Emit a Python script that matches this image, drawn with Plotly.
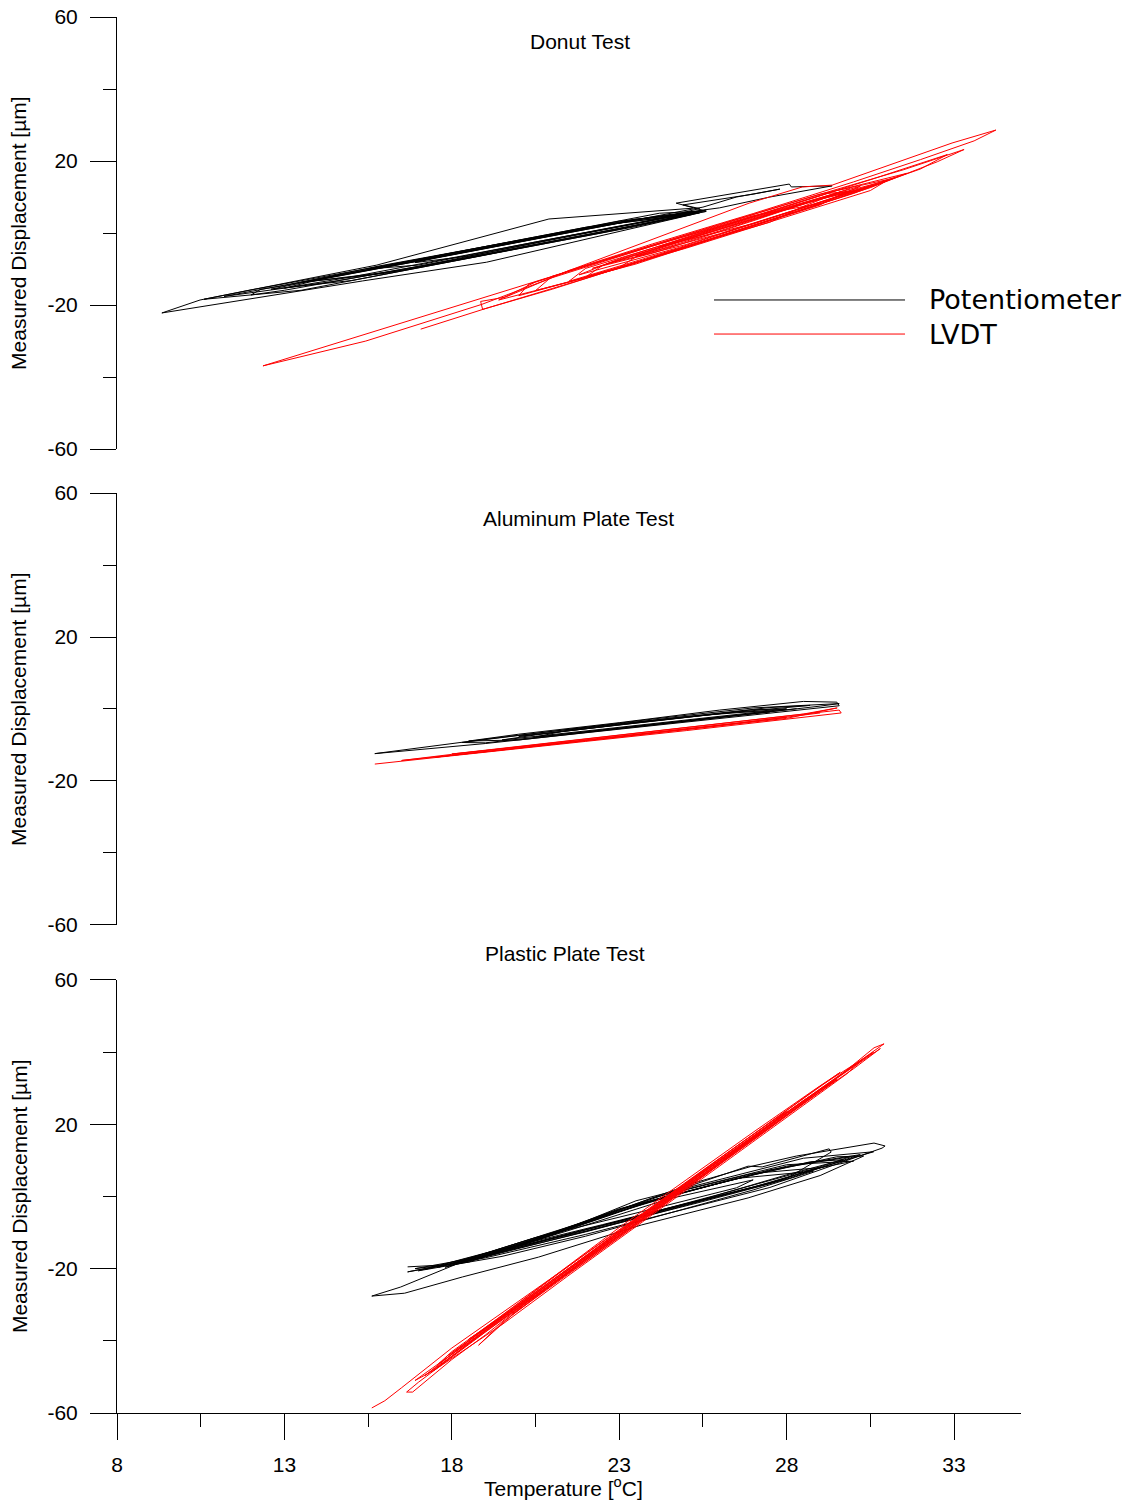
import plotly.graph_objects as go

# ---------------- Data (temperature [C], displacement [um]) ----------------
# Donut test - potentiometer
donut_pot_temp = [25.2, 20.9, 15.76, 10.48, 9.34, 15.34, 19.04, 23.21, 25.4, 22.0, 17.0, 12.0, 10.6, 13.5, 18.0,
                  22.5, 25.6, 23.0, 18.5, 14.0, 11.2, 14.5, 19.0, 23.0, 25.0, 22.5, 17.5, 13.0, 12.3, 12.0,
                  13.0, 17.0, 21.5, 24.8, 23.5, 19.5, 15.8, 13.5, 16.0, 20.0, 24.0, 25.5, 24.7, 28.08, 28.14,
                  29.36, 27.5, 26.0, 24.0, 21.0, 17.0, 14.2, 13.0, 15.0, 19.0, 22.8, 25.3, 24.2, 20.0, 16.5,
                  15.5, 17.0, 20.5, 24.0, 25.4, 24.9, 27.0, 27.8, 26.5, 25.5, 23.0, 20.0, 17.5, 16.9, 18.5,
                  21.5, 24.5, 25.5, 23.5, 20.5, 17.0, 14.5, 12.6, 15.0, 18.5, 22.0, 25.0, 25.6, 23.0, 19.5,
                  16.0, 13.8, 16.5, 20.0, 23.5, 25.2]
donut_pot_disp = [6.9, 3.9, -8.9, -18.6, -22.2, -13.3, -8.1, 0.8, 5.6, 1.6, -7.3, -15.8, -18.4, -15.9, -8.0,
                  0.1, 6.0, 3.3, -4.9, -12.6, -17.6, -13.4, -5.9, 1.2, 5.0, 2.2, -6.6, -14.6, -15.6, -17.2,
                  -15.9, -9.3, -0.8, 4.9, 3.9, -3.0, -9.2, -13.7, -11.2, -4.0, 3.0, 6.3, 8.3, 13.6, 12.8,
                  13.1, 10.0, 7.0, 4.5, -0.5, -7.8, -12.6, -15.3, -12.2, -5.2, 1.6, 6.0, 5.5, -1.9, -8.2,
                  -10.0, -8.9, -2.5, 3.6, 6.8, 7.8, 10.8, 12.2, 10.0, 7.2, 2.8, -2.5, -7.0, -8.2, -6.4,
                  -1.0, 4.3, 6.2, 3.6, -1.6, -7.6, -12.0, -15.6, -13.2, -7.0, -0.6, 5.0, 6.4, 3.0, -3.4,
                  -9.6, -13.4, -10.4, -4.2, 1.8, 5.2]

# Donut test - LVDT
donut_lvdt_temp = [17.07, 19.0, 22.0, 25.0, 28.0, 29.0, 27.0, 24.0, 21.0, 18.9, 15.43, 12.36, 18.83, 21.22,
                   26.88, 28.47, 29.36, 32.94, 34.25, 33.6, 32.0, 30.0, 27.0, 24.0, 21.5, 19.6, 18.86, 18.92,
                   21.0, 24.0, 27.0, 30.0, 31.2, 29.0, 26.0, 23.0, 20.5, 19.4, 21.5, 24.5, 27.5, 30.5, 32.5,
                   33.3, 31.5, 28.5, 25.5, 22.5, 20.3, 20.0, 23.0, 26.0, 29.0, 29.8, 28.0, 25.0, 22.5, 22.0,
                   25.0, 28.0, 30.5, 31.0, 29.0, 26.0, 23.5, 23.0, 26.0, 29.0, 30.2, 27.5, 24.5, 21.0, 20.5,
                   23.5, 26.5, 29.5, 32.0, 32.8, 30.5, 27.5, 24.5, 22.0, 21.5, 24.5, 27.5, 28.5, 29.6, 27.0,
                   24.0, 22.6, 25.0, 28.0, 30.4, 28.5, 25.5, 23.5, 26.0, 29.0, 31.6, 29.5, 26.5, 24.2, 27.0,
                   30.0, 29.2, 26.0, 23.0, 21.8, 24.8, 27.8, 30.8, 28.2, 25.2, 22.2, 24.0, 27.0, 29.9]
donut_lvdt_disp = [-26.7, -21.0, -12.6, -3.8, 5.0, 8.2, 4.8, -3.6, -12.4, -19.8, -30.0, -36.9, -18.3, -11.4,
                   8.3, 12.8, 13.3, 25.0, 28.6, 25.6, 20.4, 14.2, 5.4, -3.0, -10.4, -17.8, -19.0, -21.2,
                   -15.6, -6.8, 2.0, 11.0, 15.2, 10.8, 2.4, -6.2, -13.6, -18.6, -13.6, -5.4, 3.6, 12.6, 19.8,
                   23.2, 17.6, 9.4, 0.8, -7.6, -14.2, -17.4, -9.8, -1.0, 7.8, 11.6, 6.6, -1.8, -9.0, -12.2,
                   -4.2, 4.6, 11.8, 14.6, 9.6, 0.6, -6.6, -9.6, -0.8, 8.0, 13.0, 5.8, -2.2, -12.0, -16.0,
                   -8.6, 0.4, 9.6, 17.8, 21.8, 14.8, 6.0, -2.8, -9.8, -13.4, -5.0, 3.0, 7.4, 11.4, 4.2,
                   -4.6, -8.6, -3.2, 5.6, 12.6, 8.2, -0.4, -6.4, -0.2, 8.6, 16.6, 11.8, 3.0, -3.8, 2.6,
                   11.6, 11.0, 1.8, -7.2, -11.6, -4.0, 4.8, 13.8, 7.4, -1.2, -9.8, -5.6, 3.4, 12.4]

# Aluminum plate test - potentiometer
alu_pot_temp = [27.99, 25.0, 22.0, 19.0, 15.7, 19.0, 22.0, 25.0, 28.0, 29.57, 29.5, 28.5, 26.0, 23.0, 20.0,
                18.5, 20.0, 23.0, 26.0, 29.0, 29.57, 27.0, 24.0, 21.0, 18.3, 19.0, 22.0, 25.0, 27.5, 26.5,
                23.5, 20.5, 19.5, 22.5, 25.5, 28.0, 27.0, 24.0, 21.0, 20.0, 23.0, 26.0, 28.7, 27.5, 24.5,
                21.5, 20.5, 23.5, 26.5, 28.3]
alu_pot_disp = [0.0, -2.1, -5.1, -8.4, -12.4, -9.6, -6.6, -3.6, -0.6, 0.9, 1.9, 2.1, -0.3, -3.8, -7.0,
                -8.9, -8.6, -5.6, -2.4, 0.8, 1.5, 0.3, -2.8, -6.2, -9.3, -9.4, -6.4, -3.3, -0.8, -0.8,
                -3.8, -7.2, -8.6, -5.6, -2.6, 0.0, -0.2, -3.4, -6.6, -7.6, -4.4, -1.3, 1.0, 0.4, -2.6,
                -5.8, -7.8, -4.8, -1.7, 0.1]

# Aluminum plate test - LVDT
alu_lvdt_temp = [15.7, 19.0, 22.0, 25.0, 28.0, 29.63, 29.57, 27.0, 24.0, 21.0, 18.0, 16.5, 19.0, 22.0, 25.0,
                 28.0, 29.51, 28.5, 25.5, 22.5, 19.5, 18.0, 21.0, 24.0, 27.0, 28.0, 26.0, 23.0, 20.0, 17.5,
                 20.5, 23.5, 26.5, 29.0]
alu_lvdt_disp = [-15.3, -12.1, -9.0, -6.0, -2.9, -1.1, -0.3, -3.0, -6.2, -9.3, -12.6, -14.3, -11.9, -8.8, -5.8,
                 -2.6, 0.3, -1.4, -4.6, -7.8, -11.0, -12.5, -9.6, -6.6, -3.4, -2.3, -4.6, -7.8, -10.9, -13.4,
                 -10.2, -7.1, -4.0, -1.1]

# Plastic plate test - potentiometer
plastic_pot_temp = [16.68, 17.73, 16.68, 19.0, 22.0, 25.0, 27.5, 30.85, 30.94, 30.61, 28.29, 26.97, 25.21,
                    21.93, 18.65, 16.47, 15.61, 16.59, 18.32, 20.59, 23.66, 26.85, 29.0, 30.3, 29.5, 27.0,
                    24.0, 21.0, 18.5, 16.9, 19.0, 22.0, 25.0, 28.0, 29.33, 29.27, 27.27, 26.85, 24.5, 21.5,
                    19.0, 17.6, 20.0, 23.0, 26.0, 28.5, 30.0, 28.0, 25.0, 22.0, 19.5, 18.0, 20.5, 23.5, 26.5,
                    27.0, 24.5, 21.5, 19.0, 17.2, 19.5, 22.5, 25.5, 28.0, 29.7, 28.7, 26.0, 23.0, 20.0,
                    17.8, 20.5, 23.0, 25.5, 28.0, 30.2, 28.0, 25.5, 23.0, 20.5, 18.2, 21.0, 24.0, 27.0,
                    29.0, 27.0, 24.0, 21.0, 18.8, 21.5, 24.5, 27.5, 30.6, 28.5, 26.0, 23.5, 21.0, 19.5,
                    22.0, 25.0, 27.5, 29.9, 27.5, 24.5, 21.5, 19.2, 17.0, 19.5, 22.0, 24.5, 27.0, 28.8,
                    26.5, 23.5, 20.5, 18.6]
plastic_pot_disp = [-19.5, -19.0, -20.9, -17.0, -10.5, -3.5, 2.5, 13.4, 14.0, 14.8, 11.2, 8.4, 3.7,
                    -7.3, -16.8, -25.1, -27.6, -26.8, -22.3, -16.8, -7.9, -0.4, 5.8, 11.2, 11.0, 6.0,
                    -1.0, -10.6, -18.2, -20.0, -16.5, -9.8, -2.5, 5.0, 12.3, 13.2, 8.2, 8.4, 1.0, -8.8,
                    -16.0, -19.6, -13.8, -6.8, 0.6, 7.0, 9.8, 8.8, 2.0, -7.4, -15.4, -18.6, -11.4, -4.6, 2.4,
                    4.6, -0.6, -9.4, -16.4, -20.2, -14.6, -7.8, -0.8, 6.0, 10.2, 9.6, 3.8, -3.6, -13.4,
                    -19.6, -13.2, -7.4, -1.4, 4.8, 11.6, 8.4, 2.6, -3.4, -11.8, -18.6, -11.6, -4.4, 2.6,
                    8.0, 6.4, -0.4, -10.2, -17.0, -10.4, -3.2, 3.8, 12.4, 10.6, 4.8, -1.2, -10.6, -14.8,
                    -9.6, -2.2, 3.6, 11.0, 7.4, 0.0, -8.4, -15.2, -20.6, -16.6, -11.0, -4.6, 1.8, 7.0,
                    5.0, -2.6, -12.0, -17.4]

# Plastic plate test - LVDT
plastic_lvdt_temp = [15.61, 16.0, 16.5, 18.0, 20.0, 22.0, 24.0, 26.0, 28.0, 30.0, 30.91, 30.61, 29.0, 27.0,
                     25.0, 23.0, 21.0, 19.0, 17.0, 16.65, 16.83, 18.0, 19.0, 20.0, 22.0, 24.0, 26.0, 28.0,
                     29.5, 28.5, 26.5, 24.5, 22.5, 20.5, 18.8, 19.5, 21.5, 23.5, 25.5, 27.5, 30.3, 29.8,
                     27.5, 25.5, 23.5, 21.5, 19.5, 17.5, 16.9, 18.5, 20.5, 22.5, 24.5, 26.5, 28.0, 26.0,
                     24.0, 22.0, 20.0, 18.0, 17.2, 19.0, 21.0, 23.0, 25.0, 27.0, 28.8, 29.6, 28.0, 26.0,
                     24.0, 22.0, 20.0, 18.0, 17.6, 19.5, 21.5, 23.5, 25.5, 27.5, 29.0, 30.6, 29.0, 27.0,
                     25.0, 23.0, 21.0, 19.0, 17.9, 20.0, 22.0, 24.0, 26.0, 27.2, 25.5, 23.5, 21.5, 19.5,
                     18.5, 20.5, 22.5, 24.5, 26.5, 28.5, 30.0, 30.8, 29.0, 27.0, 25.0, 23.0, 21.0, 19.0,
                     17.4, 19.5, 21.5, 23.5, 25.5, 27.5, 29.3, 27.5, 25.5, 23.5, 21.5, 19.8, 22.0, 24.0,
                     26.0, 28.0]
plastic_lvdt_disp = [-58.6, -56.6, -53.0, -42.0, -29.0, -15.9, -2.8, 10.2, 23.3, 36.4, 42.3, 41.2, 29.0, 15.6,
                     2.4, -10.8, -24.2, -37.6, -51.5, -54.2, -54.2, -45.2, -38.4, -31.0, -17.6, -4.2, 9.2, 22.5,
                     32.4, 26.6, 13.4, 0.0, -13.4, -27.0, -41.2, -35.0, -21.0, -7.4, 6.0, 19.3, 38.2, 34.0,
                     18.5, 5.2, -8.2, -21.8, -35.5, -48.0, -51.0, -40.4, -26.6, -13.0, 0.5, 13.9, 23.6, 9.0,
                     -4.6, -18.0, -30.8, -44.4, -49.6, -36.4, -22.4, -8.6, 4.6, 17.8, 29.4, 34.4, 23.8, 10.6,
                     -2.6, -15.8, -29.6, -43.0, -46.4, -34.0, -20.6, -7.4, 6.6, 19.8, 29.8, 40.0, 30.6, 17.2,
                     3.8, -9.6, -23.0, -36.6, -44.0, -30.2, -17.0, -3.8, 9.4, 17.4, 6.8, -6.6, -19.8, -33.2,
                     -39.6, -27.4, -14.0, -0.6, 12.8, 25.8, 35.4, 41.0, 29.6, 16.6, 3.4, -9.8, -23.6, -37.2,
                     -48.6, -33.6, -20.2, -6.8, 6.2, 19.6, 31.6, 19.0, 5.4, -8.0, -21.4, -32.8, -17.2, -3.4,
                     9.8, 23.0]

# Axis ticks / labels
x_ticks = [8, 13, 18, 23, 28, 33]
x_minor_ticks = [10.5, 15.5, 20.5, 25.5, 30.5]
y_ticks = [-60, -20, 20, 60]
y_minor_ticks = [-40, 0, 40]
panel_titles = ["Donut Test", "Aluminum Plate Test", "Plastic Plate Test"]
series_names = ["Potentiometer", "LVDT"]
y_title = "Measured Displacement [µm]"
x_title = "Temperature [<sup>o</sup>C]"

# ---------------- Figure ----------------
FONT = "Arial, Liberation Sans, sans-serif"
BLACK = "#000000"
RED = "#FF0000"

fig = go.Figure()

panels = [
    ("x3", "y3", donut_pot_temp, donut_pot_disp, donut_lvdt_temp, donut_lvdt_disp),
    ("x2", "y2", alu_pot_temp, alu_pot_disp, alu_lvdt_temp, alu_lvdt_disp),
    ("x", "y", plastic_pot_temp, plastic_pot_disp, plastic_lvdt_temp, plastic_lvdt_disp),
]
for xa, ya, px, py, lx, ly in panels:
    fig.add_trace(go.Scatter(x=px, y=py, mode="lines", name=series_names[0],
                             line=dict(color=BLACK, width=1), xaxis=xa, yaxis=ya, showlegend=False))
    fig.add_trace(go.Scatter(x=lx, y=ly, mode="lines", name=series_names[1],
                             line=dict(color=RED, width=1), xaxis=xa, yaxis=ya, showlegend=False))

yaxis_style = dict(
    range=[-60, 60], showline=True, linecolor=BLACK, linewidth=1, mirror=False, automargin=False,
    ticks="outside", ticklen=26, tickwidth=1, tickcolor=BLACK,
    tickmode="array", tickvals=y_ticks, ticktext=[str(v) for v in y_ticks],
    minor=dict(tickmode="array", tickvals=y_minor_ticks, ticks="outside", ticklen=13,
               tickwidth=1, tickcolor=BLACK, showgrid=False),
    showgrid=False, zeroline=False, tickfont=dict(family=FONT, size=21, color=BLACK),
    ticklabelstandoff=8,
)

fig.update_layout(
    width=1143, height=1505,
    margin=dict(l=117, r=122, t=17, b=92, autoexpand=False),
    paper_bgcolor="white", plot_bgcolor="white",
    showlegend=False,
    xaxis=dict(domain=[0, 1], anchor="y", range=[8, 35], showline=True, linecolor=BLACK, linewidth=1,
               automargin=False,
               ticks="outside", ticklen=26, tickwidth=1, tickcolor=BLACK,
               tickmode="array", tickvals=x_ticks, ticktext=[str(v) for v in x_ticks],
               minor=dict(tickmode="array", tickvals=x_minor_ticks, ticks="outside", ticklen=13,
                          tickwidth=1, tickcolor=BLACK, showgrid=False),
               showgrid=False, zeroline=False, tickfont=dict(family=FONT, size=21, color=BLACK),
               ticklabelstandoff=7),
    xaxis2=dict(domain=[0, 1], anchor="y2", range=[8, 35], visible=False, matches="x", automargin=False),
    xaxis3=dict(domain=[0, 1], anchor="y3", range=[8, 35], visible=False, matches="x", automargin=False),
    yaxis=dict(domain=[0, 0.3102], anchor="x", **yaxis_style),
    yaxis2=dict(domain=[0.3496, 0.6590], anchor="x2", **yaxis_style),
    yaxis3=dict(domain=[0.6905, 1.0], anchor="x3", **yaxis_style),
)

annotations = []
# panel titles
for title, (tx, ty) in zip(panel_titles, [(0.5122, 0.9821), (0.510, 0.6411), (0.4956, 0.3295)]):
    annotations.append(dict(text=title, x=tx, y=ty, xref="paper", yref="paper", showarrow=False,
                            xanchor="center", yanchor="middle", font=dict(family=FONT, size=21, color=BLACK)))
# y titles
for ty in [0.8453, 0.5043, 0.1554]:
    annotations.append(dict(text=y_title, x=-0.1084, y=ty, xref="paper", yref="paper", showarrow=False,
                            textangle=-90, xanchor="center", yanchor="middle",
                            font=dict(family=FONT, size=21, color=BLACK)))
# x title
annotations.append(dict(text=x_title, x=0.4934, y=-0.0530, xref="paper", yref="paper", showarrow=False,
                        xanchor="center", yanchor="middle", font=dict(family=FONT, size=21, color=BLACK)))
# legend labels
for name, ly in zip(series_names, [0.7973, 0.7729]):
    annotations.append(dict(text=name, x=0.896, y=ly, xref="paper", yref="paper", showarrow=False,
                            xanchor="left", yanchor="middle",
                            font=dict(family="DejaVu Sans, sans-serif", size=27, color=BLACK)))
fig.update_layout(annotations=annotations)

# legend line samples
shapes = []
for color, ly in zip([BLACK, RED], [0.7973, 0.7729]):
    shapes.append(dict(type="line", xref="paper", yref="paper", x0=0.6604, x1=0.8717, y0=ly, y1=ly,
                       line=dict(color=color, width=1)))
fig.update_layout(shapes=shapes)

fig.write_html("out.html")
